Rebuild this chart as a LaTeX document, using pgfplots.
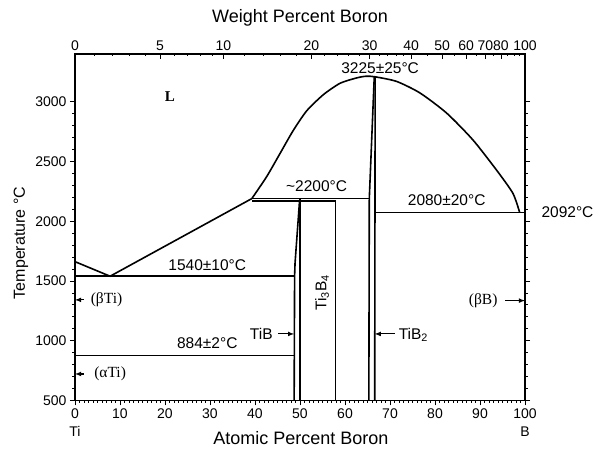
\documentclass[border=0pt]{standalone}
\usepackage{pgfplots}
\pgfplotsset{compat=1.18}
\usepackage{fontspec}
\setmainfont{Liberation Sans}
\newfontfamily\serif{Liberation Serif}
\newcommand{\fs}[1]{\fontsize{#1}{#1}\selectfont}

\pgfplotsset{
  phase/.style={black, line width=1.6pt, no markers},
}
\tikzset{
  ann/.style={font=\fs{15.5}},
  tag/.style={-latex, black, line width=1.1pt},
}

\begin{document}
\begin{tikzpicture}
\path[use as bounding box] (-75pt,-48.5pt) rectangle (530pt,400.5pt);
% atomic percent (bottom) and temperature
\begin{axis}[
  at={(0,0)}, anchor=south west,
  scale only axis, width=450pt, height=346.5pt,
  xmin=0, xmax=100, ymin=500, ymax=3400,
  xtick={0,10,...,100}, ytick={500,1000,...,3000},
  minor x tick num=9, minor y tick num=4,
  xtick pos=left, ytick pos=both, yticklabel pos=left,
  tick align=outside, major tick length=5pt, minor tick length=2.5pt,
  every tick/.style={black, line width=0.9pt},
  axis line style={line width=1.4pt},
  ticklabel style={font=\fs{14}},
  /pgf/number format/assume math mode=true,
  /pgf/number format/1000 sep={},
  clip=false,
]
% liquidus Ti side
\addplot[phase] coordinates {(0,1662) (7.8,1540) (39.3,2190)};
% eutectic / eutectoid
\addplot[phase] coordinates {(0,1540) (48.7,1540)};
\addplot[phase] coordinates {(0,875) (48.7,875)};
% TiB
\addplot[phase] coordinates {(48.7,500) (48.8,1540) (48.9,1650) (49.9,2172)};
\addplot[phase] coordinates {(50.0,500) (50.0,2190)};
% peritectics
\addplot[phase] coordinates {(39.3,2190) (65.4,2190)};
\addplot[phase] coordinates {(39.3,2172) (57.9,2172)};
% Ti3B4
\addplot[phase] coordinates {(57.9,500) (57.9,2172)};
% TiB2
\addplot[phase] coordinates {(65.3,500) (65.4,2190) (66.5,3209)};
\addplot[phase] coordinates {(66.6,500) (66.7,3209)};
% liquidus dome
\addplot[phase, smooth, tension=0.4] coordinates {
  (39.3,2190) (42.6,2374) (45.6,2570) (48.5,2760) (51.5,2925) (55.2,3060)
  (58.9,3155) (62.6,3200) (64.7,3214) (66.7,3209) (71.5,3170) (76.7,3073)
  (82.6,2905) (88.4,2682) (93.6,2432) (97.3,2235) (98.8,2075)};
% B-rich eutectic
\addplot[phase] coordinates {(66.6,2075) (100,2075)};

\node[ann] at (axis cs:67.8,3282) {3225±25°C};
\node[ann] at (axis cs:53.7,2296) {\textasciitilde2200°C};
\node[ann] at (axis cs:82.6,2179) {2080±20°C};
\node[ann, anchor=west] at ([xshift=13pt]axis cs:100,2075) {2092°C};
\node[ann] at (axis cs:29.4,1635) {1540±10°C};
\node[ann] at (axis cs:29.4,979) {884±2°C};
\node[ann] at (axis cs:41.4,1057) {TiB};
\draw[tag] (axis cs:45.2,1057) -- (axis cs:48.7,1057);
\node[ann] at (axis cs:75.2,1048) {TiB\textsubscript{2}};
\draw[tag] (axis cs:71.1,1057) -- (axis cs:66.6,1057);
\node[font=\serif\fs{15.5}] at (axis cs:90.7,1336) {(βB)};
\draw[tag] (axis cs:95.6,1336) -- (axis cs:100,1336);
\node[font=\serif\fs{15.5}] at (axis cs:7,1342) {(βTi)};
\draw[tag] (axis cs:1.9,1342) -- (axis cs:0,1342);
\node[font=\serif\fs{15.5}] at (axis cs:7.8,722) {(αTi)};
\draw[tag] (axis cs:1.9,722) -- (axis cs:0,722);
\node[font=\serif\bfseries\fs{15}] at (axis cs:21.1,3042) {L};
\node[ann, rotate=90] at (axis cs:54.9,1400) {Ti\textsubscript{3}B\textsubscript{4}};

\node[font=\fs{14}] at ([yshift=-31pt]axis cs:0,500) {Ti};
\node[font=\fs{14}] at ([yshift=-31pt]axis cs:100,500) {B};
\node[font=\fs{18}] at ([yshift=-37.5pt]rel axis cs:0.502,0) {Atomic Percent Boron};
\node[font=\fs{16}, rotate=90] at ([xshift=-54pt]rel axis cs:0,0.4545) {Temperature °C};
\end{axis}
% weight percent (top)
\begin{axis}[
  at={(0,0)}, anchor=south west,
  scale only axis, width=450pt, height=346.5pt,
  xmin=0, xmax=100, ymin=500, ymax=3400,
  hide y axis,
  xtick pos=right, xticklabel pos=right,
  xtick={0,18.90,32.98,52.54,65.49,74.70,81.58,86.91,91.18,94.66,100},
  xticklabels={0,5,10,20,30,40,50,60,70,80,100},
  minor xtick={4.28,8.29,12.05,15.58,22.04,25.00,27.80,30.46,37.65,41.89,
    45.75,49.29,55.53,58.30,60.87,63.26,67.57,69.52,71.35,73.07,78.37,84.40,
    89.16,93.00,96.17,97.55,98.83},
  tick align=inside, major tick length=5pt, minor tick length=2.5pt,
  every tick/.style={black, line width=0.9pt},
  axis line style={line width=1.4pt},
  ticklabel style={font=\fs{14}},
  /pgf/number format/assume math mode=true,
  clip=false,
]
\node[font=\fs{18}] at ([yshift=36pt]rel axis cs:0.5,1) {Weight Percent Boron};
\end{axis}
\end{tikzpicture}
\end{document}
